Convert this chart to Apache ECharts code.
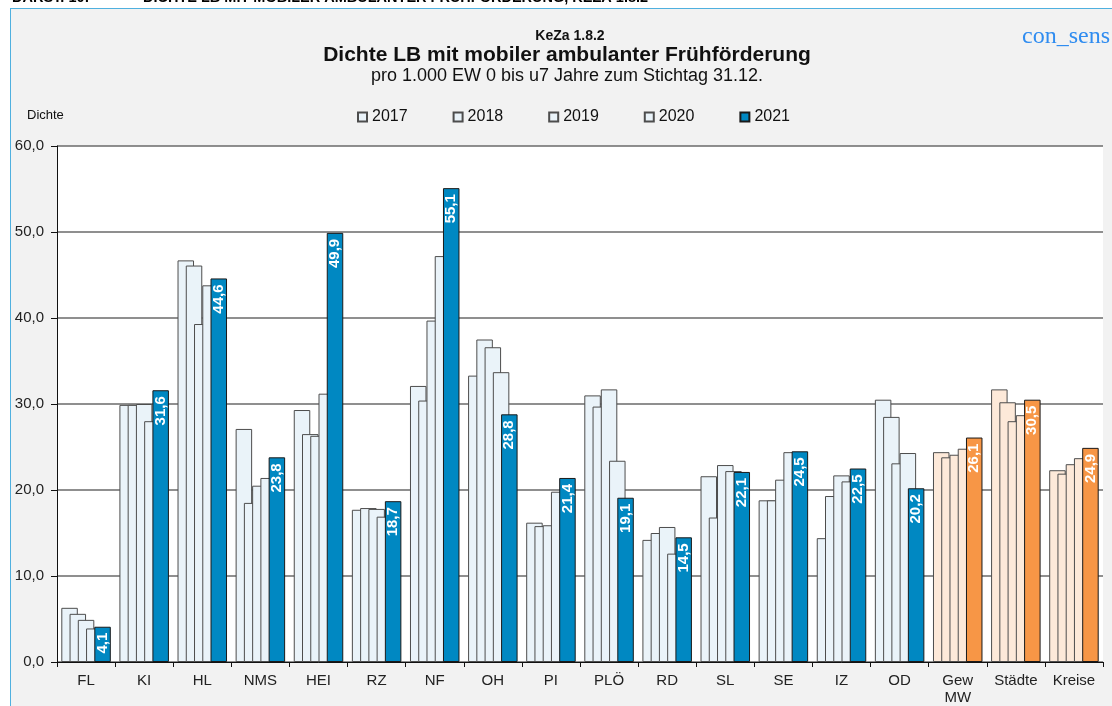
<!DOCTYPE html>
<html>
<head>
<meta charset="utf-8">
<script src="https://cdn.jsdelivr.net/npm/echarts@6/dist/echarts.min.js"></script>
<style>
html,body{margin:0;padding:0;background:#fff;}
#frame{position:absolute;left:10px;top:8px;width:1102px;height:698px;background:#f2f2f2;border-top:1px solid #4fb0df;border-left:1px solid #4fb0df;}
#chart{position:absolute;left:0;top:0;width:1112px;height:706px;}
</style>
</head>
<body>
<div id="frame"></div>
<div id="chart"></div>
<script>
const categories = ['FL','KI','HL','NMS','HEI','RZ','NF','OH','PI','PLÖ','RD','SL','SE','IZ','OD','Gew\nMW','Städte','Kreise'];
const years = ['2017','2018','2019','2020','2021'];
const v2017 = [6.3,29.9,46.7,27.1,29.3,17.7,32.1,33.3,16.2,31.0,14.2,21.6,18.8,14.4,30.5,24.4,31.7,22.3];
const v2018 = [5.6,29.9,46.1,18.5,26.5,17.9,30.4,37.5,15.8,29.7,15.0,16.8,18.8,19.3,28.5,23.8,30.2,21.9];
const v2019 = [4.9,30.0,39.3,20.5,26.3,17.8,39.7,36.6,15.9,31.7,15.7,22.9,21.2,21.7,23.1,24.1,28.0,23.0];
const v2020 = [3.9,28.0,43.8,21.4,31.2,16.9,47.2,33.7,19.8,23.4,12.6,22.2,24.4,21.0,24.3,24.8,28.7,23.7];
const v2021 = [4.1,31.6,44.6,23.8,49.9,18.7,55.1,28.8,21.4,19.1,14.5,22.1,24.5,22.5,20.2,26.1,30.5,24.9];
const yTicks = [0,10,20,30,40,50,60];

const allValues = [v2017,v2018,v2019,v2020,v2021];
const aggStart = 15;
const FONT = '"Liberation Sans", Arial, sans-serif';

const chart = echarts.init(document.getElementById('chart'), null, {renderer:'canvas'});

const series = allValues.map((vals, i) => {
  const isLast = i === 4;
  const baseColor = isLast ? '#0088c2' : '#eaf3f9';
  const aggColor = isLast ? '#f79646' : '#fde9d9';
  return {
    name: years[i],
    type: 'bar',
    barWidth: 16.5,
    barGap: '-50%',
    data: vals.map((v, k) => k >= aggStart ? {value: v, itemStyle: {color: aggColor}} : v),
    itemStyle: {color: baseColor, borderColor: isLast ? '#1a1a1a' : '#4d4d4d', borderWidth: 1},
    label: isLast ? {
      show: true,
      position: 'insideTop',
      rotate: 90,
      align: 'right',
      verticalAlign: 'middle',
      distance: 6,
      color: '#fff',
      fontWeight: 'bold',
      fontSize: 15,
      fontFamily: FONT,
      formatter: p => p.value.toFixed(1).replace('.', ',')
    } : {show: false},
    emphasis: {disabled: true},
    animation: false
  };
});

chart.setOption({
  animation: false,
  textStyle: {fontFamily: FONT},
  grid: {left: 57, right: 9, top: 146, bottom: 42, show: true, backgroundColor: '#fff', borderWidth: 0},
  legend: {
    data: years,
    top: 104,
    left: 352,
    icon: 'rect',
    itemWidth: 9,
    itemHeight: 9,
    itemGap: 45,
    textStyle: {fontSize: 16, color: '#111', fontFamily: FONT}
  },
  xAxis: {
    type: 'category',
    data: categories,
    axisLine: {lineStyle: {color: '#111', width: 1}},
    axisTick: {show: true, length: 5, lineStyle: {color: '#111'}},
    axisLabel: {fontSize: 15, color: '#222', margin: 10, lineHeight: 17, interval: 0}
  },
  yAxis: {
    type: 'value',
    min: yTicks[0],
    max: yTicks[yTicks.length - 1],
    interval: 10,
    axisLine: {show: true, lineStyle: {color: '#111', width: 1}},
    axisTick: {show: true, length: 6, lineStyle: {color: '#111'}},
    axisLabel: {fontSize: 15, color: '#222', margin: 13, formatter: v => v.toFixed(1).replace('.', ',')},
    splitLine: {show: true, lineStyle: {color: '#6a6a6a', width: 1.5}}
  },
  graphic: [
    {type: 'text', x: 12, y: 5, style: {text: 'DARST. 10:', font: 'bold 14.5px ' + FONT, fill: '#000', verticalAlign: 'bottom'}},
    {type: 'text', x: 143, y: 5, style: {text: 'DICHTE LB MIT MOBILER AMBULANTER FRÜHFÖRDERUNG, KEZA 1.8.2', font: 'bold 14.5px ' + FONT, fill: '#000', verticalAlign: 'bottom'}},
    {type: 'text', x: 570, y: 36, style: {text: 'KeZa 1.8.2', font: 'bold 14px ' + FONT, fill: '#111', align: 'center', verticalAlign: 'middle'}},
    {type: 'text', x: 567, y: 55, style: {text: 'Dichte LB mit mobiler ambulanter Frühförderung', font: 'bold 21px ' + FONT, fill: '#111', align: 'center', verticalAlign: 'middle'}},
    {type: 'text', x: 567, y: 76, style: {text: 'pro 1.000 EW 0 bis u7 Jahre zum Stichtag 31.12.', font: '18px ' + FONT, fill: '#111', align: 'center', verticalAlign: 'middle'}},
    {type: 'text', x: 27, y: 115, style: {text: 'Dichte', font: '13px ' + FONT, fill: '#111', align: 'left', verticalAlign: 'middle'}},
    {type: 'text', x: 1022, y: 37, style: {text: 'con_sens', font: '24px "Liberation Serif", "Times New Roman", serif', fill: '#2f8cf0', align: 'left', verticalAlign: 'middle'}}
  ],
  series: series
});
</script>
</body>
</html>
